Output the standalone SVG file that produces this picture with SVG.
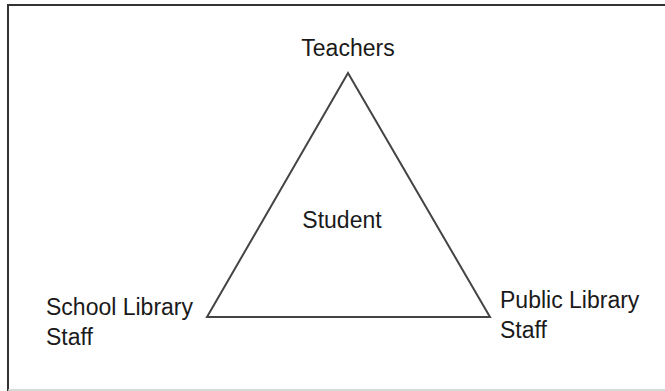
<svg xmlns="http://www.w3.org/2000/svg" width="665" height="391" viewBox="0 0 665 391">
<style>
text{font-family:"Liberation Sans",Arial,sans-serif;font-size:23px;fill:#1a1a1a}
.edge{fill:none;stroke:#444;stroke-width:2;stroke-linejoin:miter}
</style>
<rect x="0" y="0" width="665" height="391" fill="#fff"/>
<g id="frame">
<line x1="8" y1="5" x2="665" y2="5" stroke="#333" stroke-width="2"/>
<line x1="8" y1="4" x2="8" y2="391" stroke="#333" stroke-width="2"/>
<line x1="8" y1="390" x2="665" y2="390" stroke="#ccc" stroke-width="1.5"/>
</g>
<g id="connectors">
<polygon class="edge" points="348,73 207,317 490,317"/>
</g>
<g id="teachers"><text x="348" y="56" text-anchor="middle">Teachers</text></g>
<g id="student"><text x="342" y="228" text-anchor="middle">Student</text></g>
<g id="school"><text x="46" y="315">School Library</text><text x="46" y="345">Staff</text></g>
<g id="public"><text x="500" y="308">Public Library</text><text x="500" y="338">Staff</text></g>
</svg>
